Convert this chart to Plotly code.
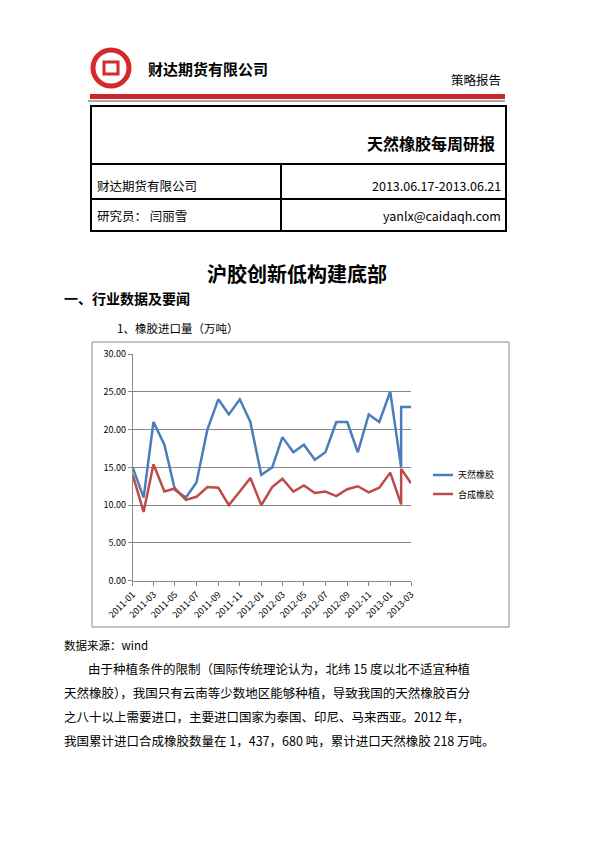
import plotly.graph_objects as go

months = ['2011-01', '2011-02', '2011-03', '2011-04', '2011-05', '2011-06', '2011-07',
          '2011-08', '2011-09', '2011-10', '2011-11', '2011-12', '2012-01', '2012-02',
          '2012-03', '2012-04', '2012-05', '2012-06', '2012-07', '2012-08', '2012-09',
          '2012-10', '2012-11', '2012-12', '2013-01', '2013-02', '2013-02', '2013-03']
natural = [15, 11, 21, 18, 12, 11, 13, 20, 24, 22, 24, 21, 14, 15, 19, 17, 18, 16, 17,
           21, 21, 17, 22, 21, 25, 15, 23, 23]
synthetic = [14.0, 9.1, 15.4, 11.8, 12.2, 10.7, 11.1, 12.4, 12.3, 10.0, 11.8, 13.6, 10.0,
             12.4, 13.5, 11.8, 12.6, 11.6, 11.8, 11.2, 12.1, 12.5, 11.7, 12.3, 14.3, 10.1,
             14.8, 12.9]
tick_vals = ['2011-01', '2011-03', '2011-05', '2011-07', '2011-09', '2011-11', '2012-01',
             '2012-03', '2012-05', '2012-07', '2012-09', '2012-11', '2013-01', '2013-03']

W, H = 595, 842
OFF = 8  # page body margin
FONT = 'Noto Sans CJK SC'
BLUE = '#4a7ebb'
RED = '#be4b48'


def px(x):
    return (x - OFF) / W


def py(y):
    return 1 - (y - OFF) / H


fig = go.Figure()
fig.add_trace(go.Scatter(x=[m + '-01' for m in months], y=natural, mode='lines',
                         name='天然橡胶', line=dict(color=BLUE, width=2.5)))
fig.add_trace(go.Scatter(x=[m + '-01' for m in months], y=synthetic, mode='lines',
                         name='合成橡胶', line=dict(color=RED, width=2.5)))

shapes = [
    dict(type='circle', xref='paper', yref='paper', x0=px(93), x1=px(129), y0=py(50), y1=py(86),
         line=dict(color='#d42a2a', width=5)),
    dict(type='rect', xref='paper', yref='paper', x0=px(104), x1=px(118), y0=py(62), y1=py(74),
         line=dict(color='#d42a2a', width=3)),
    dict(type='rect', xref='paper', yref='paper', x0=px(90), x1=px(505), y0=py(94), y1=py(99),
         fillcolor='#c8282a', line=dict(width=0)),
    dict(type='line', xref='paper', yref='paper', x0=px(88), x1=px(505), y0=py(101), y1=py(101),
         line=dict(color='#555', width=1)),
    dict(type='rect', xref='paper', yref='paper', x0=px(91), x1=px(506), y0=py(106), y1=py(231),
         line=dict(color='black', width=2)),
    dict(type='line', xref='paper', yref='paper', x0=px(91), x1=px(506), y0=py(164), y1=py(164),
         line=dict(color='black', width=2)),
    dict(type='line', xref='paper', yref='paper', x0=px(91), x1=px(506), y0=py(199), y1=py(199),
         line=dict(color='black', width=2)),
    dict(type='line', xref='paper', yref='paper', x0=px(281), x1=px(281), y0=py(164), y1=py(231),
         line=dict(color='black', width=2)),
    dict(type='rect', xref='paper', yref='paper', x0=px(92), x1=px(509), y0=py(342), y1=py(627),
         line=dict(color='#888', width=1)),
    dict(type='line', xref='paper', yref='paper', x0=px(433), x1=px(453), y0=py(475), y1=py(475),
         line=dict(color=BLUE, width=2.5)),
    dict(type='line', xref='paper', yref='paper', x0=px(433), x1=px(453), y0=py(494), y1=py(494),
         line=dict(color=RED, width=2.5)),
]


def text(x, y, s, size=12, anchor='left', bold=False, color='black'):
    return dict(xref='paper', yref='paper', x=px(x), y=py(y), text=f'<b>{s}</b>' if bold else s,
                showarrow=False, xanchor=anchor, yanchor='middle',
                font=dict(family=FONT, size=size, color=color))


annotations = [
    text(146, 68, '财达期货有限公司', 15, bold=True),
    text(503, 80, '策略报告', 12.5, 'right'),
    text(497, 143, '天然橡胶每周研报', 16, 'right', bold=True),
    text(95, 185, '财达期货有限公司', 12.5),
    text(503, 185, '2013.06.17-2013.06.21', 12.5, 'right'),
    text(95, 216, '研究员： 闫丽雪', 12.5),
    text(503, 216, 'yanlx@caidaqh.com', 12.5, 'right'),
    text(297, 273, '沪胶创新低构建底部', 20, 'center', bold=True),
    text(62, 298, '一、行业数据及要闻', 14, bold=True),
    text(115, 328, '1、橡胶进口量（万吨）', 11.5),
    text(456, 475, '天然橡胶', 9),
    text(456, 494, '合成橡胶', 9),
    text(62, 645, '数据来源：wind', 11.5),
    text(86, 668, '由于种植条件的限制（国际传统理论认为，北纬 15 度以北不适宜种植', 12.5),
    text(62, 692, '天然橡胶），我国只有云南等少数地区能够种植，导致我国的天然橡胶百分', 12.5),
    text(62, 716, '之八十以上需要进口，主要进口国家为泰国、印尼、马来西亚。2012 年，', 12.5),
    text(62, 740, '我国累计进口合成橡胶数量在 1，437，680 吨，累计进口天然橡胶 218 万吨。', 12.5),
]

fig.update_layout(
    width=W, height=H, margin=dict(l=0, r=0, t=0, b=0),
    paper_bgcolor='white', plot_bgcolor='white', showlegend=False,
    shapes=shapes, annotations=annotations,
    font=dict(family=FONT, size=9, color='black'),
    xaxis=dict(domain=[px(132.7), px(411)], type='date', range=['2011-01-01', '2013-03-01'],
               tickvals=[t + '-01' for t in tick_vals], ticktext=tick_vals, tickangle=-45,
               showgrid=False, showline=True, linecolor='#888', ticks='outside',
               ticklen=4, tickcolor='#888', tickfont=dict(size=9), automargin=False),
    yaxis=dict(domain=[py(580.7), py(354)], range=[0, 30], dtick=5, tickformat='.2f',
               showgrid=True, gridcolor='#888', gridwidth=1, showline=True,
               linecolor='#888', ticks='outside', ticklen=4, tickcolor='#888',
               tickfont=dict(size=9), zeroline=False, automargin=False),
)

fig.write_html('out.html')
